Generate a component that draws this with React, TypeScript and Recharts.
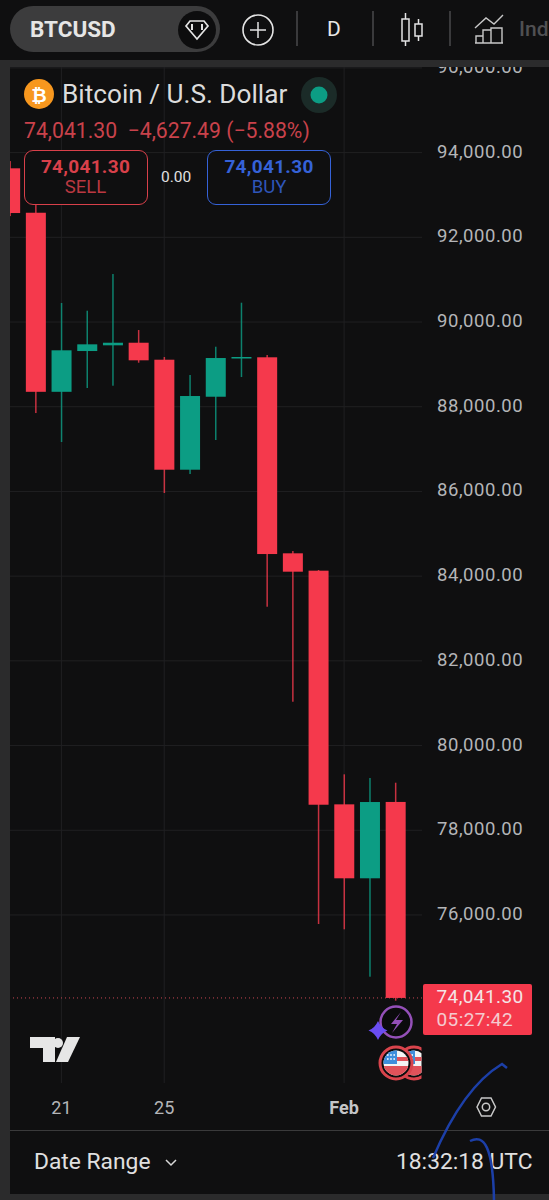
import type { CSSProperties, JSX } from 'react';
import { Bar, CartesianGrid, ComposedChart, ReferenceLine, XAxis, YAxis } from 'recharts';

const days = ['19', '20', '21', '22', '23', '24', '25', '26', '27', '28', '29', '30', '31', 'Feb', '2', '3'];
const opens = [93629, 92580, 88352, 89315, 89450, 89511, 89110, 86513, 88236, 89162, 89167, 84539, 84129, 78612, 76866, 78668.79];
const highs = [93800, 92762, 90449, 90267, 91133, 89811, 89174, 88749, 89417, 90456, 89221, 84593, 84145, 79321, 79234, 79123];
const lows = [92500, 87851, 87167, 88442, 88496, 89039, 85963, 86411, 87214, 88701, 83278, 81035, 75787, 75662, 74543, 73976];
const closes = [92573, 88352, 89332, 89473, 89511, 89096, 86513, 88253, 89150, 89174, 84522, 84105, 78603, 76866, 78667, 74041.3];

const priceTicks = [96000, 94000, 92000, 90000, 88000, 86000, 84000, 82000, 80000, 78000, 76000];
const dayTicks = [2, 6, 13];
const lastPrice = 74041.3;

const RED = '#f5394c';
const GREEN = '#0c9d84';
const BG = '#0f0f10';
const FRAME = '#2b2b2c';
const FONT = 'Roboto, sans-serif';

const candles = days.map((day, index) => ({
  index,
  day,
  open: opens[index],
  close: closes[index],
  range: [lows[index], highs[index]],
}));

function Candle(props: any): JSX.Element {
  const { x, y, width, height, payload } = props;
  const [low, high] = payload.range;
  const perUnit = height / (high - low);
  const color = payload.close >= payload.open ? GREEN : RED;
  const bodyTop = y + (high - Math.max(payload.open, payload.close)) * perUnit;
  const bodyHeight = Math.max(Math.abs(payload.open - payload.close) * perUnit, 1.5);
  return (
    <g>
      <rect x={x + width / 2 - 0.75} y={y} width={1.5} height={height} fill={color} opacity={0.8} />
      <rect x={x} y={bodyTop} width={width} height={bodyHeight} fill={color} />
    </g>
  );
}

function PriceTick({ x, y, payload }: any): JSX.Element {
  return (
    <text x={x} y={y - 1} dominantBaseline="central" fontFamily={FONT} fontSize={18.5} fill="#b4b5b8" letterSpacing={0.55}>
      {payload.value.toLocaleString('en-US', { minimumFractionDigits: 2 })}
    </text>
  );
}

function DayTick({ x, payload }: any): JSX.Element {
  const label = days[payload.value];
  return (
    <text
      x={x}
      y={1107 - 67}
      textAnchor="middle"
      dominantBaseline="central"
      fontFamily={FONT}
      fontSize={18}
      fontWeight={label === 'Feb' ? 700 : 400}
      fill={label === 'Feb' ? '#c4c5c7' : '#b4b5b8'}
    >
      {label}
    </text>
  );
}

function at(left: number, top: number, extra: CSSProperties = {}): CSSProperties {
  return { position: 'absolute', left, top, whiteSpace: 'nowrap', fontFamily: FONT, lineHeight: 1, ...extra };
}

function OrderBox({ left, color, label }: { left: number; color: string; label: string }): JSX.Element {
  return (
    <div
      style={at(left, 150, {
        width: 124,
        height: 55,
        boxSizing: 'border-box',
        border: `1px solid ${color}`,
        borderRadius: 9,
        background: BG,
        textAlign: 'center',
        color,
      })}
    >
      <div style={{ fontSize: 19, fontWeight: 700, marginTop: 6, letterSpacing: 0.3 }}>74,041.30</div>
      <div style={{ fontSize: 18.5, marginTop: 2, opacity: 0.85 }}>{label}</div>
    </div>
  );
}

function Flag({ cx, cy }: { cx: number; cy: number }): JSX.Element {
  const id = `flag-${cx}`;
  return (
    <g>
      <circle cx={cx} cy={cy} r={16} fill="#0b0b0c" stroke="#d9444c" strokeWidth={3} />
      <clipPath id={id}>
        <circle cx={cx} cy={cy} r={12.5} />
      </clipPath>
      <g clipPath={`url(#${id})`}>
        <rect x={cx - 13} y={cy - 13} width={26} height={26} fill="#f4f4f4" />
        <rect x={cx} y={cy - 6} width={13} height={4} fill="#e0525a" />
        <rect x={cx - 13} y={cy + 3} width={26} height={10} fill="#e0525a" />
        <rect x={cx - 13} y={cy - 13} width={14} height={14} fill="#3f8fdc" />
        <path
          d={`M${cx - 9} ${cy - 8}h9M${cx - 9} ${cy - 4}h9`}
          stroke="#ffffff"
          strokeWidth={1.6}
          strokeDasharray="1.6 1.6"
        />
      </g>
    </g>
  );
}

function Overlay(): JSX.Element {
  return (
    <svg width={549} height={1200} style={{ position: 'absolute', left: 0, top: 0, pointerEvents: 'none' }}>
      {/* toolbar icons */}
      <circle cx={197} cy={30} r={19} fill="#0d0d0e" />
      <path d="M186 26 L190 21 L204 21 L208 26 L197 39 Z" fill="none" stroke="#e4e4e4" strokeWidth={1.7} />
      <path d="M192 24 V30 M202 24 V30" stroke="#e4e4e4" strokeWidth={2} />
      <circle cx={258} cy={30} r={15} fill="none" stroke="#e4e4e4" strokeWidth={1.6} />
      <path d="M250 30 H266 M258 22 V38" stroke="#e4e4e4" strokeWidth={1.5} />
      <path d="M297 11 V46 M373 11 V46 M450 11 V46" stroke="#4a4a4b" strokeWidth={1.5} />
      <rect x={402} y={19} width={7} height={22} fill="none" stroke="#e4e4e4" strokeWidth={1.5} />
      <path d="M405.5 13 V19 M405.5 41 V46" stroke="#e4e4e4" strokeWidth={1.5} />
      <rect x={415} y={24} width={7} height={12} fill="none" stroke="#e4e4e4" strokeWidth={1.5} />
      <path d="M418.5 19 V24 M418.5 36 V41" stroke="#e4e4e4" strokeWidth={1.5} />
      <path d="M475 28 L486 18 L494 24 L503 15" fill="none" stroke="#c8c8c8" strokeWidth={1.4} />
      <path d="M476 43 V36 H483 V43 M483 43 V30 H491 V43 M491 43 V28 H502 V43 M475 43 H503" fill="none" stroke="#c8c8c8" strokeWidth={1.4} />

      {/* legend icons */}
      <circle cx={39} cy={94} r={15} fill="#f7971e" />
      <text x={39} y={95} textAnchor="middle" dominantBaseline="central" fontFamily={FONT} fontSize={19} fontWeight={700} fill="#ffffff">
        ₿
      </text>
      <circle cx={319} cy={95} r={18} fill="#1b2b28" />
      <circle cx={319} cy={95} r={8.5} fill={GREEN} />

      {/* TradingView mark */}
      <path d="M30 1037 H55 V1062 H43 V1048 H30 Z" fill="#e6e6e6" />
      <circle cx={58} cy={1043} r={5} fill="#e6e6e6" />
      <path d="M67 1037 H80 L68 1062 H56 Z" fill="#e6e6e6" />

      {/* events under the last candle */}
      <circle cx={396} cy={1022} r={15.5} fill="#0b0b0c" stroke="#9450b8" strokeWidth={2.5} />
      <path d="M401 1012 L391 1024 H397 L392 1033 L403 1020 H396 Z" fill="#9450b8" />
      <path d="M378 1021 Q381 1028 387.5 1030.5 Q381 1033 378 1040 Q375 1033 368.5 1030.5 Q375 1028 378 1021 Z" fill="#6a4df2" />
      <clipPath id="flags">
        <rect x={370} y={1040} width={51.5} height={50} />
      </clipPath>
      <g clipPath="url(#flags)">
        <Flag cx={414} cy={1063} />
        <Flag cx={396} cy={1063} />
      </g>

      {/* settings hexagon */}
      <path d="M477 1107 L481.5 1098 H491 L495.5 1107 L491 1116 H481.5 Z" fill="none" stroke="#c8c8c8" strokeWidth={1.5} />
      <circle cx={486} cy={1107} r={3.7} fill="none" stroke="#c8c8c8" strokeWidth={1.5} />

      {/* date range chevron */}
      <path d="M166 1160 L171 1165 L176 1160" fill="none" stroke="#d8d8d8" strokeWidth={1.5} />

      {/* pen scribbles on top of the screenshot */}
      <path d="M433 1158 C450 1118 472 1082 502 1064 L507 1068" fill="none" stroke="#1c3fa8" strokeWidth={2.5} />
      <path d="M470 1141 C484 1134 493 1146 494 1200" fill="none" stroke="#1c3fa8" strokeWidth={2.5} />
    </svg>
  );
}

export default function App(): JSX.Element {
  return (
    <div style={{ position: 'absolute', left: 0, top: 0, width: 549, height: 1200, overflow: 'hidden', background: BG }}>
      <div style={{ position: 'absolute', left: 0, top: 67, width: 549, height: 1063, overflow: 'hidden' }}>
        <ComposedChart
          width={549}
          height={1063}
          data={candles}
          margin={{ top: 0, right: 0, bottom: 0, left: 10 }}
        >
          <CartesianGrid stroke="#202022" strokeWidth={1} syncWithTicks />
          <XAxis
            dataKey="index"
            type="number"
            domain={[0, 16.03]}
            ticks={dayTicks}
            interval={0}
            height={47}
            axisLine={false}
            tickLine={false}
            allowDataOverflow
            tick={<DayTick />}
          />
          <YAxis
            orientation="right"
            type="number"
            domain={[72033, 96021]}
            ticks={priceTicks}
            interval={0}
            width={127}
            axisLine={false}
            tickLine={false}
            tickSize={0}
            tickMargin={15}
            allowDataOverflow
            tick={<PriceTick />}
          />
          <ReferenceLine y={lastPrice} stroke="#e8505e" strokeOpacity={0.85} strokeDasharray="1 3" />
          <Bar dataKey="range" barSize={20} shape={<Candle />} isAnimationActive={false} />
        </ComposedChart>
      </div>

      {/* frame round the chart panel */}
      <div style={{ position: 'absolute', left: 0, top: 60, width: 10, height: 1140, background: FRAME }} />
      <div style={{ position: 'absolute', left: 0, top: 60, width: 549, height: 7, background: FRAME }} />
      <div style={{ position: 'absolute', left: 0, top: 1194, width: 549, height: 6, background: FRAME }} />
      <div style={{ position: 'absolute', left: 10, top: 1130, width: 539, height: 1, background: '#3a3a3b' }} />

      {/* toolbar */}
      <div style={{ position: 'absolute', left: 10, top: 6, width: 210, height: 46, borderRadius: 23, background: '#3c3c3d' }} />
      <div style={at(30, 18, { fontSize: 22.5, fontWeight: 700, color: '#e6e6e6' })}>BTCUSD</div>
      <div style={at(327, 19, { fontSize: 21, color: '#e6e6e6' })}>D</div>
      <div style={at(519, 19, { fontSize: 21, fontWeight: 500, color: '#505052' })}>Ind</div>

      {/* legend */}
      <div style={at(62, 81, { fontSize: 26.2, color: '#dcdcdc' })}>Bitcoin / U.S. Dollar</div>
      <div style={at(24, 120, { fontSize: 21.2, color: '#c9424b' })}>74,041.30&nbsp; −4,627.49 (−5.88%)</div>
      <OrderBox left={23.5} color="#d8404a" label="SELL" />
      <div style={at(161, 170, { fontSize: 15.5, color: '#e0e0e0' })}>0.00</div>
      <OrderBox left={207} color="#3562d8" label="BUY" />

      {/* last price tag */}
      <div style={at(422.5, 984, { width: 109, height: 51, background: RED, borderRadius: 2, color: '#f4e4e6' })}>
        <div style={{ fontSize: 19, marginTop: 3, marginLeft: 14, letterSpacing: 0.4 }}>74,041.30</div>
        <div style={{ fontSize: 19, marginTop: 4, marginLeft: 14, opacity: 0.85, letterSpacing: 0.4 }}>05:27:42</div>
      </div>

      {/* footer */}
      <div style={at(34, 1151, { fontSize: 22.8, color: '#e0e0e0' })}>Date Range</div>
      <div style={at(396, 1151, { fontSize: 22.8, color: '#e0e0e0' })}>18:32:18 UTC</div>

      <Overlay />
    </div>
  );
}
